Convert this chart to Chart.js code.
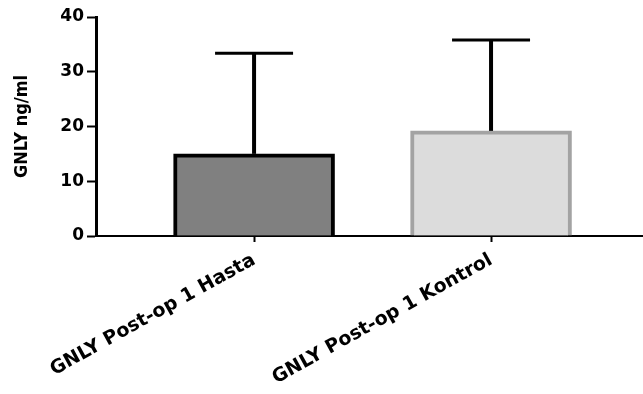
<!DOCTYPE html>
<html>
<head>
<meta charset="utf-8">
<script src="https://cdn.jsdelivr.net/npm/chart.js@4/dist/chart.umd.min.js"></script>
<style>
  html, body { margin: 0; padding: 0; background: #ffffff; }
  #wrap { width: 643px; height: 394px; }
</style>
</head>
<body>
<div id="wrap"><canvas id="c"></canvas></div>
<script>
// Group labels and their positions on the x axis
const groups = ['GNLY Post-op 1 Hasta', 'GNLY Post-op 1 Kontrol'];
const groupPos = [1, 2];
// Mean GNLY (ng/ml) and standard deviation for each group
const means = [15.0, 19.2];
const sds = [18.4, 16.6];
// Y axis ticks
const yTicks = [0, 10, 20, 30, 40];

// Draws the upward SD whisker with a cap above each bar
const sdBars = {
  id: 'sdBars',
  afterDatasetsDraw(chart) {
    const { ctx, scales: { x, y } } = chart;
    ctx.save();
    ctx.strokeStyle = '#000000';
    ctx.lineCap = 'butt';
    means.forEach((m, i) => {
      const px = x.getPixelForValue(groupPos[i]);
      const yBar = y.getPixelForValue(m);
      const yTop = y.getPixelForValue(m + sds[i]);
      ctx.lineWidth = 4;
      ctx.beginPath();
      ctx.moveTo(px, yBar);
      ctx.lineTo(px, yTop);
      ctx.stroke();
      ctx.lineWidth = 3;
      ctx.beginPath();
      ctx.moveTo(px - 39, yTop);
      ctx.lineTo(px + 39, yTop);
      ctx.stroke();
    });
    ctx.restore();
  }
};

new Chart(document.getElementById('c'), {
  type: 'bar',
  data: {
    datasets: [{
      data: groupPos.map((g, i) => ({ x: g, y: means[i] })),
      backgroundColor: ['#808080', '#dcdcdc'],
      borderColor: ['#000000', '#a3a3a3'],
      borderWidth: 4,
      borderSkipped: 'start',
      barThickness: 161,
      maxBarThickness: 161
    }]
  },
  options: {
    responsive: true,
    maintainAspectRatio: false,
    animation: false,
    devicePixelRatio: 1,
    layout: { padding: { top: 17, right: 1, left: 0, bottom: 0 } },
    plugins: { legend: { display: false }, tooltip: { enabled: false } },
    scales: {
      x: {
        type: 'linear',
        offset: false,
        bounds: 'ticks',
        min: 0.333,
        max: 2.637,
        afterBuildTicks: s => { s.ticks = groupPos.map(v => ({ value: v })); },
        afterFit: s => { s.height = 158; },
        ticks: {
          callback: v => groups[groupPos.indexOf(v)],
          autoSkip: false,
          minRotation: 29,
          maxRotation: 29,
          padding: 7,
          color: '#000000',
          font: { family: 'DejaVu Sans', weight: 'bold', size: 19 }
        },
        grid: {
          offset: false,
          drawOnChartArea: false,
          drawTicks: true,
          tickLength: 6,
          tickWidth: 2,
          tickColor: '#000000'
        },
        border: { display: true, color: '#000000', width: 2 }
      },
      y: {
        min: 0,
        max: 40,
        afterBuildTicks: s => { s.ticks = yTicks.map(v => ({ value: v })); },
        afterFit: s => { s.width = 96; },
        ticks: {
          padding: 3,
          color: '#000000',
          font: { family: 'DejaVu Sans', weight: 'bold', size: 17 }
        },
        grid: {
          drawOnChartArea: false,
          drawTicks: true,
          tickLength: 9,
          tickWidth: 2,
          tickColor: '#000000'
        },
        border: { display: true, color: '#000000', width: 3 },
        title: {
          display: true,
          text: 'GNLY ng/ml',
          color: '#000000',
          padding: { top: 12, bottom: 0 },
          font: { family: 'DejaVu Sans Condensed', weight: 'bold', size: 18 }
        }
      }
    }
  },
  plugins: [sdBars]
});
</script>
</body>
</html>
